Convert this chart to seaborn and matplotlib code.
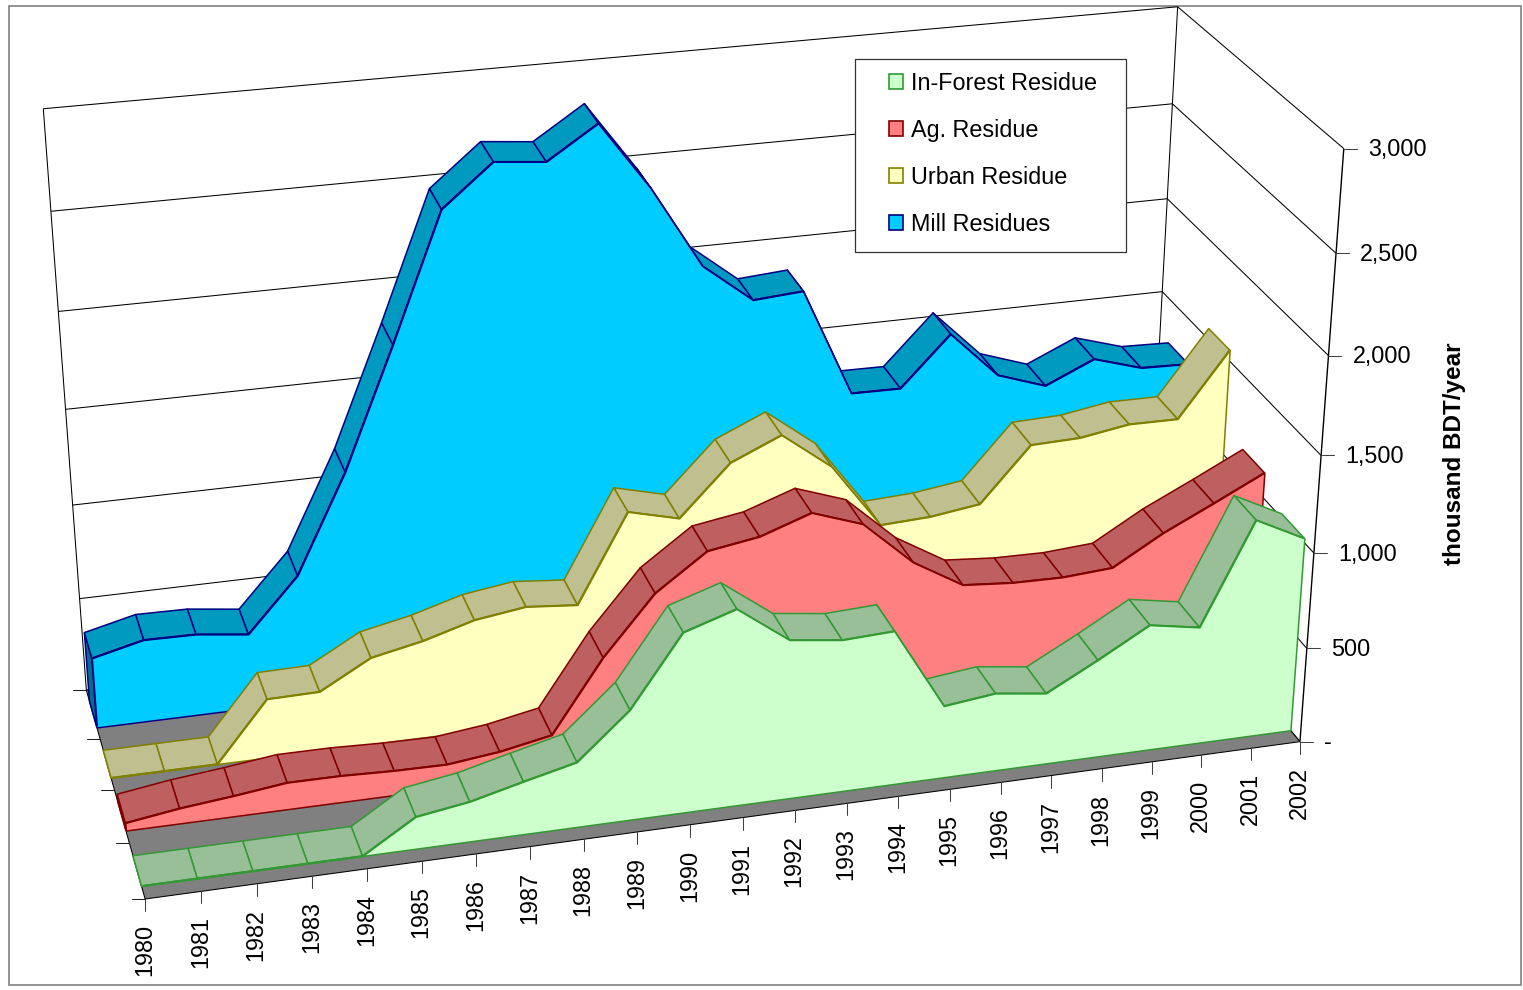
import numpy as np
import matplotlib
matplotlib.use("Agg")
import matplotlib.pyplot as plt
import matplotlib.transforms as mtransforms
from matplotlib.patches import Patch, Rectangle
import seaborn as sns

# ---- data (thousand BDT/year) ----
years = list(range(1980, 2003))
in_forest = [0, 0, 0, 0, 0, 166, 207, 274, 338, 572, 934, 1019, 827, 793, 805, 380, 411, 376, 517, 667, 621, 1148, 1021]
ag = [40, 79, 107, 140, 139, 129, 126, 157, 209, 582, 884, 1069, 1111, 1202, 1112, 881, 729, 708, 704, 722, 874, 1000, 1130]
urban = [0, 0, 0, 312, 316, 462, 517, 594, 631, 607, 1066, 1000, 1260, 1374, 1178, 838, 851, 887, 1171, 1179, 1221, 1219, 1555]
mill = [374, 438, 434, 400, 681, 1196, 1823, 2477, 2687, 2662, 2827, 2480, 2061, 1859, 1878, 1313, 1310, 1570, 1323, 1237, 1352, 1276, 1268]
value_ticks = [0, 500, 1000, 1500, 2000, 2500, 3000]
value_labels = ["-", "500", "1,000", "1,500", "2,000", "2,500", "3,000"]
series_names = ["In-Forest Residue", "Ag. Residue", "Urban Residue", "Mill Residues"]
face_colors = ["#CCFFCC", "#FF8080", "#FFFFC0", "#00CCFF"]
edge_colors = ["#339933", "#800000", "#808000", "#000080"]
strip_colors = ["#99BF99", "#BF6060", "#BFBF90", "#0099BF"]
cap_colors = ["#669966", "#804040", "#808060", "#006F8F"]
series_values = [in_forest, ag, urban, mill]

# ---- camera: (year fraction, value fraction, depth fraction) -> pixel ----
CAMERA = np.array([[1248.153088, -50.400632, -50.291312, 145.128261],
                   [-104.097009, -646.446304, -141.021987, 899.000099],
                   [0.071797, -0.07247, 0.098284, 1.0]])
Y0, Y1, VMAX = years[0], years[-1], 3000.0
SLOT_FRONT, SLOT_BACK = 0.23, 0.77


def project(year, value, depth):
    year, value, depth = np.broadcast_arrays(np.asarray(year, float), np.asarray(value, float), np.asarray(depth, float))
    h = np.stack([(year - Y0) / (Y1 - Y0), value / VMAX, depth, np.ones_like(year, dtype=float)])
    p = CAMERA @ h.reshape(4, -1)
    return (p[0] / p[2]).reshape(year.shape), (p[1] / p[2]).reshape(year.shape)


class Perspective(mtransforms.Transform):
    """Maps (year, value) in a plane of constant depth to pixels."""
    input_dims = output_dims = 2
    is_separable = False
    has_inverse = False

    def __init__(self, plane):
        super().__init__()
        self.plane = plane

    def transform_non_affine(self, values):
        values = np.asarray(values, float)
        x, y = project(values[:, 0], values[:, 1], self.plane)
        return np.column_stack([x, y])


sns.set_theme(style="white")
plt.rcParams["font.family"] = ["Liberation Sans", "DejaVu Sans"]
W, H = 1523, 990
FS = 16.8
fig = plt.figure(figsize=(W / 100, H / 100), dpi=100, facecolor="white")
ax = fig.add_axes([0, 0, 1, 1])
ax.set_xlim(0, W)
ax.set_ylim(H, 0)
ax.set_autoscale_on(False)
ax.axis("off")

LW = 0.75
EDGE = 1.1
BLACK = "#000000"


def line3d(y0, v0, d0, y1, v1, d1, **kw):
    x, y = project([y0, y1], [v0, v1], [d0, d1])
    kw.setdefault("color", BLACK)
    kw.setdefault("lw", LW)
    ax.plot(x, y, solid_capstyle="butt", zorder=kw.pop("zorder", 2), **kw)


# chart border
ax.add_patch(Rectangle((9, 6), 1512, 979, fc="white", ec="#808080", lw=1.2, zorder=0))

# walls and gridlines
for v in value_ticks:
    line3d(Y0, v, 1, Y1, v, 1)
    line3d(Y1, v, 1, Y1, v, 0)
line3d(Y0, 0, 1, Y0, VMAX, 1)
line3d(Y1, 0, 1, Y1, VMAX, 1)
line3d(Y1, 0, 0, Y1, VMAX, 0, lw=1.0, zorder=6)

# floor
fx, fy = project([Y0, Y1, Y1, Y0], 0, [0, 0, 1, 1])
ax.fill(fx, fy, fc="#808080", ec=BLACK, lw=LW, zorder=3)

# value axis ticks and labels
for v, lab in zip(value_ticks, value_labels):
    x, y = project(Y1, v, 0)
    ax.plot([x, x + 13], [y, y], color="#404040", lw=LW, zorder=6)
    ax.text(x + 24, y + 1, lab, fontsize=FS, color="black", ha="left", va="center", zorder=7)

# year axis ticks and labels
for yr in years:
    x, y = project(yr, 0, 0)
    ax.plot([x, x], [y, y + 12], color="#404040", lw=LW, zorder=6)
    ax.text(x - 0.7, y + 25, str(yr), fontsize=FS, color="black", rotation=90, ha="center", va="top", zorder=7)

# depth axis ticks
for d in [0, 0.25, 0.5, 0.75, 1.0]:
    x, y = project(Y0, 0, d)
    ax.plot([x - 13, x], [y, y], color="#202020", lw=LW, zorder=6)

ax.text(1455, 454, "thousand BDT/year", fontsize=17.5, fontweight="bold", rotation=90,
        ha="center", va="center", color="black", zorder=7)

# series, back to front
for i in range(3, -1, -1):
    vals = series_values[i]
    zf, zb = (i + SLOT_FRONT) / 4, (i + SLOT_BACK) / 4
    z = 10 + 10 * (3 - i)
    # end cap
    cx, cy = project([Y0, Y0, Y0, Y0], [0, vals[0], vals[0], 0], [zf, zf, zb, zb])
    ax.fill(cx, cy, fc=cap_colors[i], ec=edge_colors[i], lw=EDGE, zorder=z)
    # top strips
    for k in range(len(years) - 2, -1, -1):
        yy = [years[k], years[k + 1], years[k + 1], years[k]]
        vv = [vals[k], vals[k + 1], vals[k + 1], vals[k]]
        sx, sy = project(yy, vv, [zf, zf, zb, zb])
        ax.fill(sx, sy, fc=strip_colors[i], ec=edge_colors[i], lw=EDGE, joinstyle="round", zorder=z + 1)
    # front face
    T = Perspective(zf) + ax.transData
    ax.fill_between(years, 0, vals, transform=T, facecolor=face_colors[i],
                    edgecolor=edge_colors[i], lw=EDGE, zorder=z + 2)
    sns.lineplot(x=years, y=vals, ax=ax, color=edge_colors[i], lw=EDGE, estimator=None,
                 sort=False, transform=T, zorder=z + 3)

ax.set_xlim(0, W)
ax.set_ylim(H, 0)
ax.set_xlabel("")
ax.set_ylabel("")

# legend
ax.add_patch(Rectangle((855, 59), 271, 193, fc="white", ec="#333333", lw=0.9, zorder=60))
handles = [Patch(facecolor=f, edgecolor=e, lw=1.2, label=n) for f, e, n in zip(face_colors, edge_colors, series_names)]
leg = ax.legend(handles=handles, loc="upper left", bbox_to_anchor=(889, 72), bbox_transform=ax.transData,
                frameon=False, fontsize=FS, borderpad=0, borderaxespad=0, handlelength=0.6, handleheight=0.6,
                handletextpad=0.34, labelspacing=1.03)
leg.set_zorder(61)
for t in leg.get_texts():
    t.set_color("black")

fig.savefig("out.png", dpi=100, facecolor="white")
